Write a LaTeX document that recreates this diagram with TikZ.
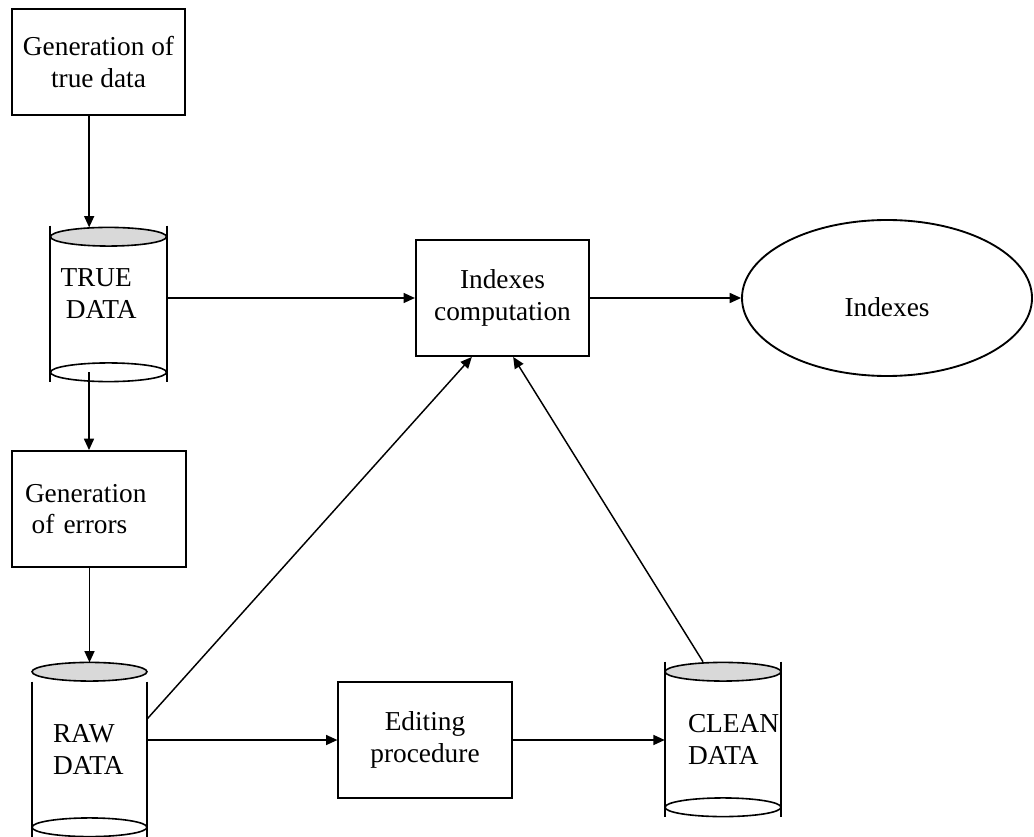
\documentclass[tikz,border=0pt]{standalone}
\usepackage{fontspec}
\setmainfont{Liberation Serif}
\usepackage{tikz}
\usetikzlibrary{arrows.meta,shapes.geometric}
\definecolor{ink}{HTML}{000000}
\definecolor{lidgray}{HTML}{D9D9D9}
\newcommand{\drum}[3]{%
  \draw[drumside] ([yshift=#3]#1.north west) -- ([yshift=-7.5pt]#1.south west);
  \draw[drumside] ([yshift=#3]#1.north east) -- ([yshift=-7.5pt]#1.south east);
  \draw[drumlid] (#1.north) ellipse [x radius=#2, y radius=7pt];
  \draw[drumbase] (#1.south) ellipse [x radius=#2, y radius=7pt];
  \coordinate (#1-top) at ([yshift=7pt]#1.north);
}
\tikzset{
  txt/.style={font=\fontsize{20.5}{23.5}\selectfont},
  box/.style={txt,draw=ink,line width=1.4pt,align=center,inner sep=0pt,
    minimum width=130pt,minimum height=87pt},
  drum/.style={txt,align=left,inner ysep=0pt,minimum height=101.25pt},
  drumside/.style={draw=ink,line width=1.5pt},
  drumlid/.style={draw=ink,line width=1.2pt,fill=lidgray},
  drumbase/.style={draw=ink,line width=1.2pt,fill=white},
  bubble/.style={txt,draw=ink,line width=1.4pt,ellipse,inner sep=0pt},
  arr/.style={-{Triangle[length=8.5pt,width=7.5pt]},line width=1.1pt,draw=ink},
}
\begin{document}
\begin{tikzpicture}[x=0.75pt,y=-0.75pt]
  \useasboundingbox (0,0) rectangle (1034,837);
  \node[box,minimum height=79.5pt] (gentrue) at (98.5,62) {Generation of\\true data};
  \node[drum,text width=72pt,inner xsep=7.5pt,text depth=40pt] (true) at (108.5,304.5) {TRUE\\\hspace{4pt}DATA};
  \node[box,align=left,text width=111pt,inner xsep=9.75pt] (generr) at (99,509) {Generation\\\hspace{5pt}of errors};
  \node[drum,text width=54.75pt,inner xsep=15.75pt,minimum height=116.25pt] (raw) at (89.5,749.5) {RAW\\DATA};
  \node[box] (idx) at (502.5,298) {Indexes\\computation};
  \node[box] (edit) at (425,740) {Editing\\procedure};
  \node[drum,text width=52.5pt,inner xsep=17.25pt] (clean) at (723,739.5) {CLEAN\\DATA};
  \node[bubble,minimum width=217.5pt,minimum height=117pt,text height=28pt] (indexes) at (887,298) {Indexes};

  \drum{true}{43.5pt}{8.25pt}
  \drum{raw}{43.1pt}{-7.5pt}
  \drum{clean}{43.5pt}{7.5pt}

  \draw[arr] ([xshift=-7pt]gentrue.south) -- ([xshift=-7pt]gentrue.south |- true-top);
  \draw[arr] ([xshift=-7.5pt]generr.north |- true.south) -- ([xshift=-7.5pt]generr.north);
  \draw[arr] (generr.south -| raw-top) -- (raw-top);
  \draw[arr] (idx.west -| true.east) -- (idx.west);
  \draw[arr] (idx.east) -- (indexes.west);
  \draw[arr] (edit.west -| raw.east) -- (edit.west);
  \draw[arr] (edit.east) -- (edit.east -| clean.west);
  \draw[arr] ([yshift=23pt]raw.east) -- ([xshift=-23pt]idx.south);
  \draw[arr] ([xshift=-15pt,yshift=7.5pt]clean.north) -- ([xshift=8pt]idx.south);
\end{tikzpicture}
\end{document}
